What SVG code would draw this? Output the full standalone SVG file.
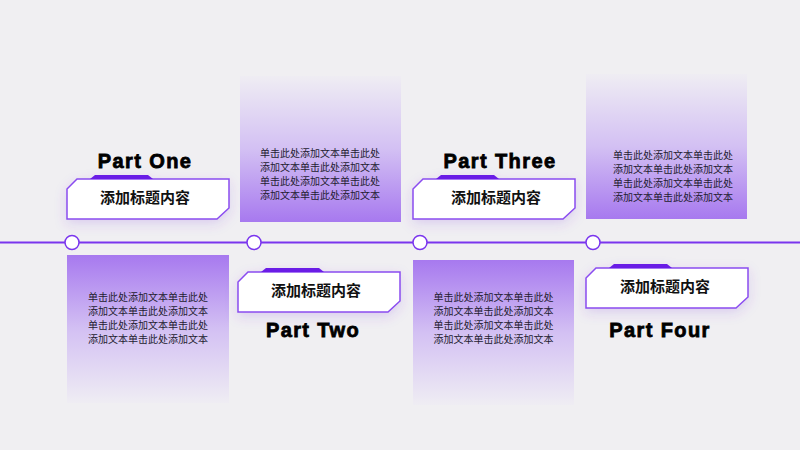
<svg xmlns="http://www.w3.org/2000/svg" width="800" height="450" viewBox="0 0 800 450">
<style>
.part{font-family:"Liberation Sans",Arial,sans-serif;font-weight:bold;font-size:20px;letter-spacing:1.4px;fill:#000;stroke:#000;stroke-width:0.8;text-anchor:middle}
.ttl{font-family:"Noto Sans CJK SC","Noto Sans",sans-serif;font-weight:bold;font-size:15px;fill:#111;text-anchor:middle}
.body{font-family:"Noto Sans CJK SC","Noto Sans",sans-serif;font-size:10px;fill:#231c30;text-anchor:middle}
.frame{fill:#fff;stroke:#8a4cf0;stroke-width:1.5}
.tab{fill:#6a1de6}
.dot{fill:#fff;stroke:#7a35ee;stroke-width:1.5}
</style>
<defs>
<linearGradient id="gDown" x1="0" y1="0" x2="0" y2="1">
<stop offset="0" stop-color="#a779ef"/>
<stop offset="0.5" stop-color="#d3c0f3"/>
<stop offset="1" stop-color="#efedf3"/>
</linearGradient>
<linearGradient id="gUp" x1="0" y1="1" x2="0" y2="0">
<stop offset="0" stop-color="#a779ef"/>
<stop offset="0.5" stop-color="#d3c0f3"/>
<stop offset="1" stop-color="#efedf3"/>
</linearGradient>
<filter id="sh" x="-30%" y="-50%" width="160%" height="220%">
<feDropShadow dx="0" dy="4" stdDeviation="6" flood-color="#7a40e0" flood-opacity="0.18"/>
</filter>
<g id="tbox">
<path class="frame" d="M10 0 H162 V29 L150 40 H0 V10 Z"/>
<path class="tab" d="M23 0 L28 -4 H81 L86 0 Z"/>
</g>
</defs>
<rect width="800" height="450" fill="#f0eff2"/>

<g id="connectors">
<line x1="0" y1="242.5" x2="800" y2="242.5" stroke="#7a35ee" stroke-width="2"/>
</g>

<g id="node1">
<rect x="67" y="255" width="162" height="148" fill="url(#gDown)"/>
<text class="body" x="148" y="301">单击此处添加文本单击此处</text>
<text class="body" x="148" y="315">添加文本单击此处添加文本</text>
<text class="body" x="148" y="329">单击此处添加文本单击此处</text>
<text class="body" x="148" y="343">添加文本单击此处添加文本</text>
<g filter="url(#sh)"><use href="#tbox" x="67" y="179"/></g>
<text class="ttl" x="145" y="203">添加标题内容</text>
<text class="part" x="145" y="168">Part One</text>
<circle class="dot" cx="72" cy="242.5" r="7"/>
</g>

<g id="node2">
<rect x="240" y="76" width="161" height="146" fill="url(#gUp)"/>
<text class="body" x="320" y="157">单击此处添加文本单击此处</text>
<text class="body" x="320" y="171">添加文本单击此处添加文本</text>
<text class="body" x="320" y="185">单击此处添加文本单击此处</text>
<text class="body" x="320" y="199">添加文本单击此处添加文本</text>
<g filter="url(#sh)"><use href="#tbox" x="238" y="272"/></g>
<text class="ttl" x="316" y="296">添加标题内容</text>
<text class="part" x="313" y="337">Part Two</text>
<circle class="dot" cx="254" cy="242.5" r="7"/>
</g>

<g id="node3">
<rect x="413" y="260" width="161" height="145" fill="url(#gDown)"/>
<text class="body" x="493.5" y="301">单击此处添加文本单击此处</text>
<text class="body" x="493.5" y="315">添加文本单击此处添加文本</text>
<text class="body" x="493.5" y="329">单击此处添加文本单击此处</text>
<text class="body" x="493.5" y="343">添加文本单击此处添加文本</text>
<g filter="url(#sh)"><use href="#tbox" x="413" y="179"/></g>
<text class="ttl" x="496" y="203">添加标题内容</text>
<text class="part" x="500" y="168">Part Three</text>
<circle class="dot" cx="420" cy="242.5" r="7"/>
</g>

<g id="node4">
<rect x="586" y="74" width="161" height="145" fill="url(#gUp)"/>
<text class="body" x="673" y="159">单击此处添加文本单击此处</text>
<text class="body" x="673" y="173">添加文本单击此处添加文本</text>
<text class="body" x="673" y="187">单击此处添加文本单击此处</text>
<text class="body" x="673" y="201">添加文本单击此处添加文本</text>
<g filter="url(#sh)"><use href="#tbox" x="586" y="268"/></g>
<text class="ttl" x="665" y="292">添加标题内容</text>
<text class="part" x="660" y="337">Part Four</text>
<circle class="dot" cx="593" cy="242.5" r="7"/>
</g>
</svg>
